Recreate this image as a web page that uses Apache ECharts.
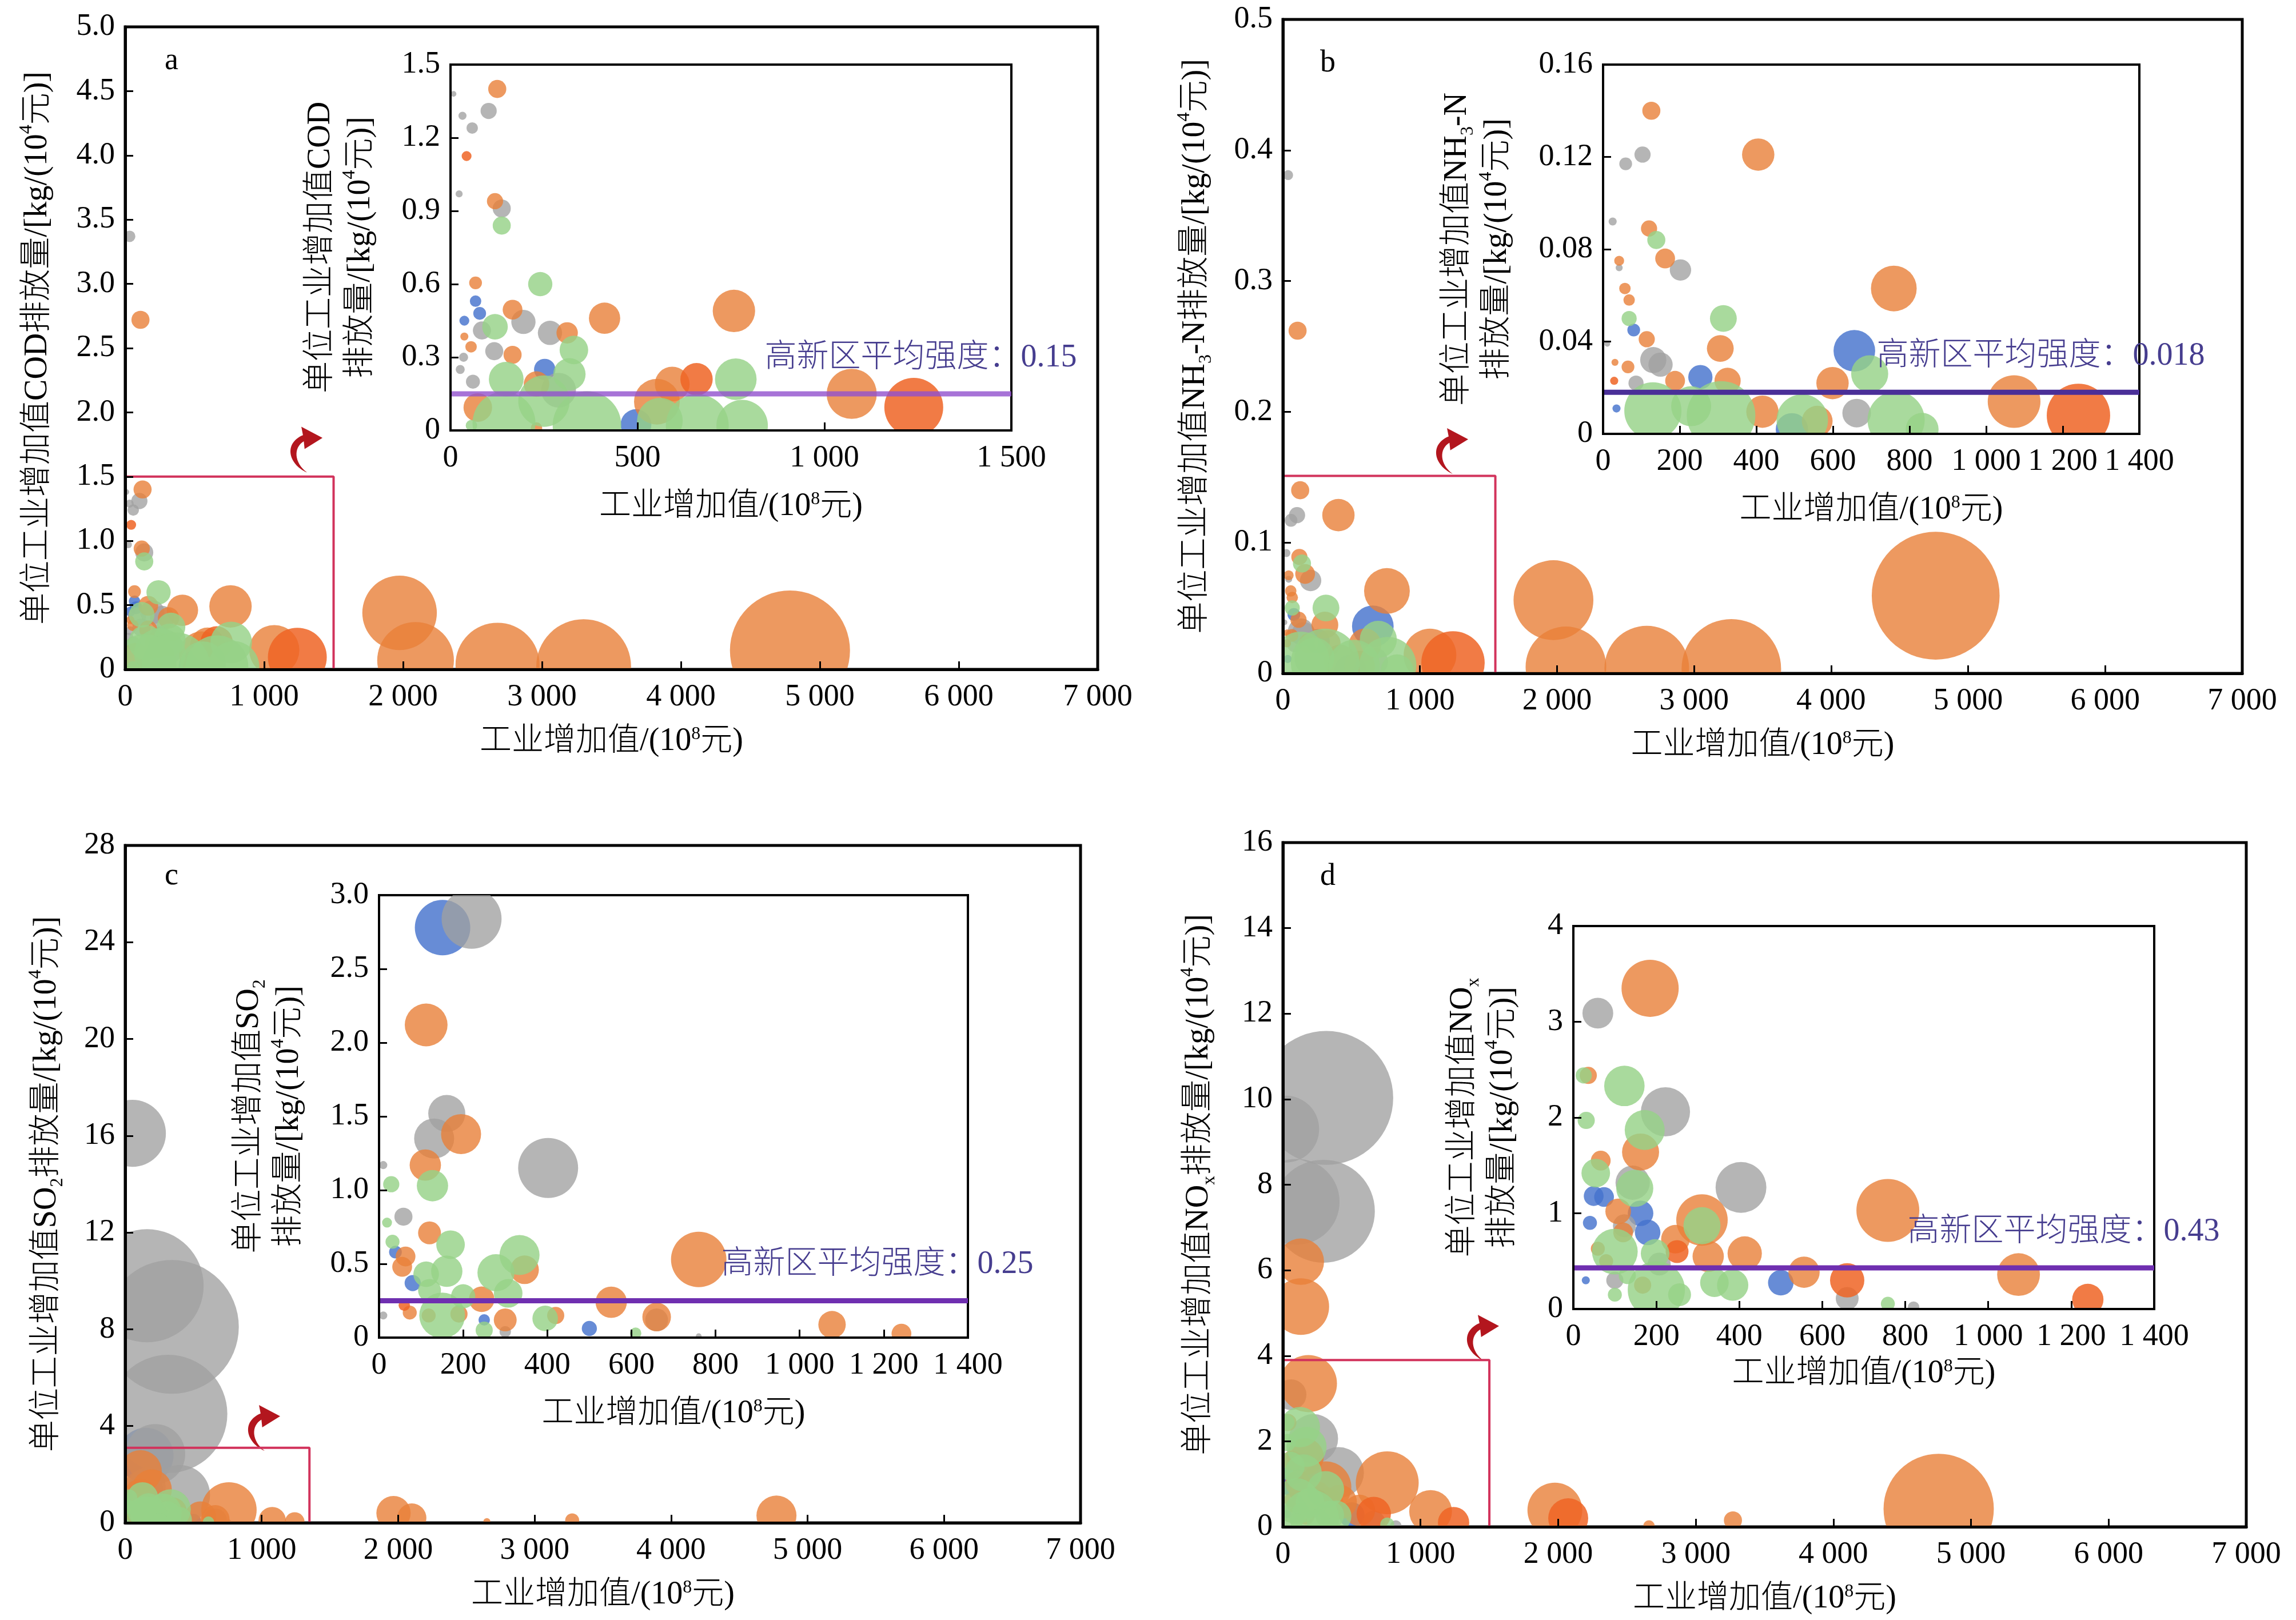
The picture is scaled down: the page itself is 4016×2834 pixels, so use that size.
<!DOCTYPE html>
<html>
<head>
<meta charset="utf-8">
<title>单位工业增加值污染物排放强度</title>
<script src="https://cdn.jsdelivr.net/npm/echarts@6.0.0/dist/echarts.min.js"></script>
<style>
  html, body { margin: 0; padding: 0; background: #fff; }
  #chart { width: 4016px; height: 2834px; }
</style>
</head>
<body>
<div id="chart"></div>
<script>
// 每个气泡: [工业增加值(10^8元), 单位工业增加值排放量, 气泡大小]

// a: COD
const codGray = [[32, 3.37, 4], [8, 1.38, 1], [32, 1.29, 2], [58, 1.24, 4], [102, 1.31, 8], [23, 0.97, 1.5], [137, 0.91, 10], [195, 0.445, 18], [84, 0.41, 10], [266, 0.40, 18], [117, 0.325, 10], [35, 0.30, 2.5], [26, 0.25, 2.5], [60, 0.20, 6], [289, 0.165, 37]]
const codOrange = [[110, 2.72, 10], [125, 1.40, 10], [119, 0.94, 8], [67, 0.605, 5], [166, 0.495, 12], [412, 0.46, 30], [758, 0.49, 55], [312, 0.40, 14], [37, 0.385, 2], [55, 0.343, 4], [166, 0.31, 10], [230, 0.19, 20], [593, 0.19, 37], [73, 0.094, 25], [552, 0.118, 64], [230, 0.01, 4], [1073, 0.15, 77], [1975, 0.44, 170], [2090, 0.07, 180], [2680, 0.036, 216], [3300, 0.022, 275], [4785, 0.147, 441]]
const codDeep = [[43, 1.125, 3], [658, 0.21, 32], [1239, 0.095, 106]]
const codGreen = [[137, 0.84, 10], [240, 0.60, 18], [119, 0.425, 20], [330, 0.33, 25], [149, 0.21, 37], [318, 0.23, 32], [763, 0.21, 53], [250, 0.12, 81], [143, 0.03, 121], [365, 0.02, 144], [560, 0.04, 64], [660, 0.02, 121], [780, 0.02, 81], [56, 0.02, 4]]
const codBlue = [[37, 0.45, 3], [67, 0.53, 4], [78, 0.48, 5], [252, 0.25, 14], [496, 0.024, 29]]
const codBox = [1500, 1.5]
const codArrow = [1305, 1.71]
const codMean = 0.15

// b: NH3-N
const nhGray = [[38, 0.381, 3], [25, 0.092, 2], [59, 0.117, 5], [103, 0.121, 8], [42, 0.072, 1.5], [202, 0.071, 14], [11, 0.039, 1], [131, 0.032, 21], [150, 0.030, 18], [86, 0.022, 7], [662, 0.009, 25]]
const nhOrange = [[107, 0.262, 10], [126, 0.140, 10], [405, 0.121, 32], [120, 0.089, 8], [162, 0.076, 12], [42, 0.075, 3], [57, 0.063, 4], [68, 0.058, 4], [759, 0.063, 64], [114, 0.041, 8], [306, 0.037, 22], [31, 0.031, 1.5], [65, 0.029, 5], [188, 0.023, 12], [325, 0.023, 21], [599, 0.022, 32], [416, 0.0096, 32], [559, 0.0055, 29], [1073, 0.014, 85], [1974, 0.056, 195], [2065, 0.005, 199], [2655, 0.004, 219], [3272, 0.0035, 303], [4763, 0.0594, 500]]
const nhDeep = [[29, 0.023, 2], [1241, 0.008, 123]]
const nhGreen = [[139, 0.084, 10], [68, 0.050, 7], [314, 0.050, 22], [696, 0.026, 42], [130, 0.01, 100], [230, 0.012, 49], [308, 0.008, 144], [520, 0.006, 81], [765, 0.006, 100], [833, 0.002, 33]]
const nhBlue = [[35, 0.011, 2], [80, 0.045, 5], [254, 0.0246, 18], [656, 0.036, 53], [493, 0.002, 32]]
const nhBox = [1550, 0.151]
const nhArrow = [1235, 0.170]
const nhMean = 0.018

// c: SO2
const so2Gray = [[53, 16.1, 137], [160, 9.8, 392], [342, 8.1, 548], [315, 4.5, 428], [220, 2.84, 110], [161, 1.52, 42], [131, 1.35, 49], [402, 1.15, 110], [10, 1.17, 2], [58, 0.82, 10], [10, 0.15, 2], [300, 0.04, 4], [660, 0.12, 16], [760, 0.01, 1]]
const so2Orange = [[112, 2.12, 56], [195, 1.38, 49], [110, 1.17, 30], [120, 0.71, 16], [63, 0.55, 12], [55, 0.48, 12], [346, 0.46, 25], [760, 0.53, 94], [244, 0.26, 20], [552, 0.24, 30], [660, 0.14, 25], [1077, 0.088, 23], [1242, 0.027, 12], [73, 0.17, 6], [118, 0.15, 6], [190, 0.16, 9], [300, 0.12, 16], [420, 0.15, 9], [1966, 0.4, 36], [2100, 0.2, 26], [2650, 0.05, 1.5], [3275, 0.1, 6], [4772, 0.3, 49]]
const so2Deep = [[60, 0.22, 4]]
const so2Green = [[29, 1.04, 8], [127, 1.03, 30], [19, 0.78, 3], [170, 0.63, 25], [32, 0.65, 6], [334, 0.56, 49], [161, 0.45, 30], [278, 0.44, 42], [112, 0.43, 20], [120, 0.32, 16], [307, 0.30, 25], [200, 0.28, 18], [150, 0.15, 64], [395, 0.13, 20], [250, 0.05, 9], [610, 0.03, 4]]
const so2Blue = [[151, 2.78, 94], [39, 0.58, 5], [80, 0.37, 8], [250, 0.12, 4], [500, 0.062, 7]]
const so2Box = [1350, 3.1]
const so2Arrow = [1018, 3.92]
const so2Mean = 0.25

// d: NOx
const noxGray = [[20, 9.3, 137], [315, 10.03, 548], [100, 7.6, 225], [294, 7.38, 324], [59, 3.09, 29], [222, 2.06, 74], [143, 1.32, 36], [404, 1.27, 79], [123, 0.87, 16], [207, 0.47, 16], [100, 0.3, 9], [660, 0.11, 16], [820, 0.02, 4]]
const noxOrange = [[130, 6.2, 66], [130, 5.15, 98], [185, 3.35, 100], [36, 2.44, 9], [162, 1.64, 42], [66, 1.55, 12], [108, 1.02, 20], [120, 0.8, 12], [310, 0.93, 81], [758, 1.03, 121], [246, 0.73, 25], [413, 0.58, 36], [325, 0.55, 30], [59, 0.63, 6], [79, 0.50, 6], [556, 0.385, 30], [167, 0.25, 9], [1073, 0.36, 56], [1976, 0.39, 92], [2660, 0.02, 4], [3270, 0.15, 10], [4765, 0.42, 372]]
const noxDeep = [[250, 0.6, 16], [660, 0.30, 36], [1240, 0.10, 30], [2073, 0.2, 49]]
const noxGreen = [[25, 2.44, 8], [123, 2.33, 50], [31, 1.97, 9], [172, 1.87, 49], [54, 1.42, 25], [148, 1.26, 42], [310, 0.87, 42], [197, 0.58, 25], [100, 0.6, 64], [130, 0.35, 9], [340, 0.275, 25], [384, 0.25, 30], [200, 0.2, 100], [256, 0.15, 16], [100, 0.15, 6], [758, 0.055, 6]]
const noxBlue = [[40, 0.9, 6], [49, 1.18, 12], [74, 1.17, 12], [162, 1.0, 20], [179, 0.80, 20], [30, 0.3, 2], [500, 0.275, 20]]
const noxBox = [1500, 3.9]
const noxArrow = [1454, 4.42]
const noxMean = 0.43

const FONT = '"Liberation Serif", "Noto Sans CJK SC", serif'
const BUBBLE_SCALE = 10
// 绘制顺序: 蓝, 灰, 橙, 深橙, 绿
const COLORS = ['rgba(70,115,205,0.82)', 'rgba(160,160,160,0.78)', 'rgba(232,128,56,0.8)', 'rgba(238,100,36,0.85)', 'rgba(150,210,135,0.82)']
const RICH = {
  sup: { fontSize: 32, verticalAlign: 'top', fontFamily: FONT, color: '#000' },
  sub: { fontSize: 32, verticalAlign: 'bottom', fontFamily: FONT, color: '#000' }
}
const ARROW = 'path://M62,140 C15,115 5,55 52,32 L48,8 L100,40 L56,72 L54,50 C28,68 30,112 62,140 Z'

const panels = [
  {
    letter: 'a', letterPos: [288, 80],
    main: [219, 47, 1701, 1124], inset: [788, 113, 981, 640],
    mainY: { max: 5, interval: 0.5, dec: 1, gap: 118 },
    insetY: { max: 1.5, interval: 0.3, dec: 1, gap: 122 },
    insetX: { max: 1500, interval: 500, gap: 105 },
    yName: '单位工业增加值COD排放量/[kg/(10{sup|4}元)]',
    insetName: '单位工业增加值COD\n排放量/[kg/(10{sup|4}元)]',
    groups: [codBlue, codGray, codOrange, codDeep, codGreen],
    box: codBox, arrow: codArrow, mean: codMean, meanColor: 'rgba(145,80,205,0.8)'
  },
  {
    letter: 'b', letterPos: [2309, 84],
    main: [2244, 34, 1678, 1144], inset: [2804, 113, 938, 646],
    mainY: { max: 0.5, interval: 0.1, dec: 1, gap: 118 },
    insetY: { max: 0.16, interval: 0.04, dec: 2, gap: 150 },
    insetX: { max: 1400, interval: 200, gap: 105 },
    yName: '单位工业增加值NH{sub|3}-N排放量/[kg/(10{sup|4}元)]',
    insetName: '单位工业增加值NH{sub|3}-N\n排放量/[kg/(10{sup|4}元)]',
    groups: [nhBlue, nhGray, nhOrange, nhDeep, nhGreen],
    box: nhBox, arrow: nhArrow, mean: nhMean, meanColor: '#4a2f98'
  },
  {
    letter: 'c', letterPos: [288, 1506],
    main: [219, 1479, 1671, 1185], inset: [663, 1566, 1030, 774],
    mainY: { max: 28, interval: 4, dec: 0, gap: 102 },
    insetY: { max: 3, interval: 0.5, dec: 1, gap: 122 },
    insetX: { max: 1400, interval: 200, gap: 105 },
    yName: '单位工业增加值SO{sub|2}排放量/[kg/(10{sup|4}元)]',
    insetName: '单位工业增加值SO{sub|2}\n排放量/[kg/(10{sup|4}元)]',
    groups: [so2Blue, so2Gray, so2Orange, so2Deep, so2Green],
    box: so2Box, arrow: so2Arrow, mean: so2Mean, meanColor: '#6f2fb0'
  },
  {
    letter: 'd', letterPos: [2309, 1507],
    main: [2244, 1474, 1685, 1197], inset: [2752, 1620, 1016, 670],
    mainY: { max: 16, interval: 2, dec: 0, gap: 112 },
    insetY: { max: 4, interval: 1, dec: 0, gap: 88 },
    insetX: { max: 1400, interval: 200, gap: 85 },
    yName: '单位工业增加值NO{sub|x}排放量/[kg/(10{sup|4}元)]',
    insetName: '单位工业增加值NO{sub|x}\n排放量/[kg/(10{sup|4}元)]',
    groups: [noxBlue, noxGray, noxOrange, noxDeep, noxGreen],
    box: noxBox, arrow: noxArrow, mean: noxMean, meanColor: '#6f2fb0'
  }
]

// 千位用空格分隔
function fmtThousands(v) {
  if (v < 1000) return String(v)
  return Math.floor(v / 1000) + ' ' + String(v % 1000).padStart(3, '0')
}

function fmtY(dec) {
  return function (v) {
    return v === 0 ? '0' : v.toFixed(dec)
  }
}

function makeGrid(rect, inset) {
  return {
    left: rect[0], top: rect[1], width: rect[2], height: rect[3],
    show: true, borderColor: '#000', borderWidth: inset ? 4 : 5,
    backgroundColor: inset ? '#fff' : 'transparent',
    containLabel: false, outerBoundsMode: 'none'
  }
}

function makeX(gridIndex, max, interval, gap, width) {
  return {
    type: 'value', gridIndex, min: 0, max, interval, z: 10,
    name: '工业增加值/(10{sup|8}元)', nameLocation: 'middle', nameGap: gap,
    nameTextStyle: { fontSize: 56, fontWeight: 300, fontFamily: FONT, color: '#000', rich: RICH },
    axisLine: { show: true, onZero: false, lineStyle: { color: '#000', width } },
    axisTick: { show: true, inside: true, length: 14, lineStyle: { color: '#000', width: 3 } },
    axisLabel: { fontSize: 54, fontFamily: FONT, color: '#000', margin: 22, formatter: fmtThousands },
    splitLine: { show: false }
  }
}

function makeY(gridIndex, cfg, name, width) {
  return {
    type: 'value', gridIndex, min: 0, max: cfg.max, interval: cfg.interval, z: 10,
    name, nameLocation: 'middle', nameGap: cfg.gap, nameRotate: 90,
    nameTextStyle: { fontSize: 56, fontWeight: 300, fontFamily: FONT, color: '#000', lineHeight: 70, rich: RICH },
    axisLine: { show: true, onZero: false, lineStyle: { color: '#000', width } },
    axisTick: { show: true, inside: true, length: 14, lineStyle: { color: '#000', width: 3 } },
    axisLabel: { fontSize: 54, fontFamily: FONT, color: '#000', margin: 18, formatter: fmtY(cfg.dec) },
    splitLine: { show: false }
  }
}

function bubbles(data, color, axisIndex) {
  return {
    type: 'custom',
    xAxisIndex: axisIndex,
    yAxisIndex: axisIndex,
    data,
    clip: true,
    silent: true,
    z: 2,
    encode: { x: 0, y: 1 },
    renderItem: function (params, api) {
      const p = api.coord([api.value(0), api.value(1)])
      return {
        type: 'circle',
        shape: { cx: p[0], cy: p[1], r: Math.sqrt(api.value(2)) * BUBBLE_SCALE / 2 },
        style: { fill: color }
      }
    }
  }
}

const grid = []
const xAxis = []
const yAxis = []
const series = []
const graphic = []

panels.forEach(function (p) {
  const mi = grid.length
  const ii = mi + 1
  grid.push(makeGrid(p.main, false), makeGrid(p.inset, true))
  xAxis.push(makeX(mi, 7000, 1000, 98, 5), makeX(ii, p.insetX.max, p.insetX.interval, p.insetX.gap, 4))
  yAxis.push(makeY(mi, p.mainY, p.yName, 5), makeY(ii, p.insetY, p.insetName, 4))

  // 主图和放大图使用同一组数据
  p.groups.forEach(function (g, k) {
    series.push(bubbles(g, COLORS[k], mi))
  })
  p.groups.forEach(function (g, k) {
    series.push(bubbles(g, COLORS[k], ii))
  })

  // 放大区域的框和箭头
  series.push({
    type: 'line', xAxisIndex: mi, yAxisIndex: mi, silent: true, z: 5,
    data: [[0, p.box[1]], [p.box[0], p.box[1]], [p.box[0], 0]],
    symbol: 'none', lineStyle: { color: '#d2335c', width: 4 },
    markPoint: {
      silent: true, symbol: ARROW, symbolSize: [56, 80],
      itemStyle: { color: '#b3161e' }, label: { show: false },
      data: [{ coord: p.arrow }]
    }
  })

  // 高新区平均强度
  series.push({
    type: 'line', xAxisIndex: ii, yAxisIndex: ii, silent: true, z: 6,
    data: [[0, p.mean], [p.insetX.max, p.mean]],
    symbol: 'none', lineStyle: { color: p.meanColor, width: 9 },
    markPoint: {
      silent: true, symbol: 'circle', symbolSize: 1,
      itemStyle: { color: 'rgba(0,0,0,0)' },
      data: [{ coord: [p.insetX.max, p.mean] }],
      label: {
        show: true, position: 'left', distance: 0, offset: [115, -63],
        formatter: '高新区平均强度：' + p.mean,
        color: '#463d8f', fontSize: 56, fontWeight: 300, fontFamily: FONT
      }
    }
  })

  graphic.push({
    type: 'text', left: p.letterPos[0], top: p.letterPos[1], z: 20,
    style: { text: p.letter, fill: '#000', font: '54px "Liberation Serif"' }
  })
})

const chart = echarts.init(document.getElementById('chart'), null, { renderer: 'canvas' })
chart.setOption({
  backgroundColor: '#fff',
  animation: false,
  grid, xAxis, yAxis, series, graphic
})
</script>
</body>
</html>
